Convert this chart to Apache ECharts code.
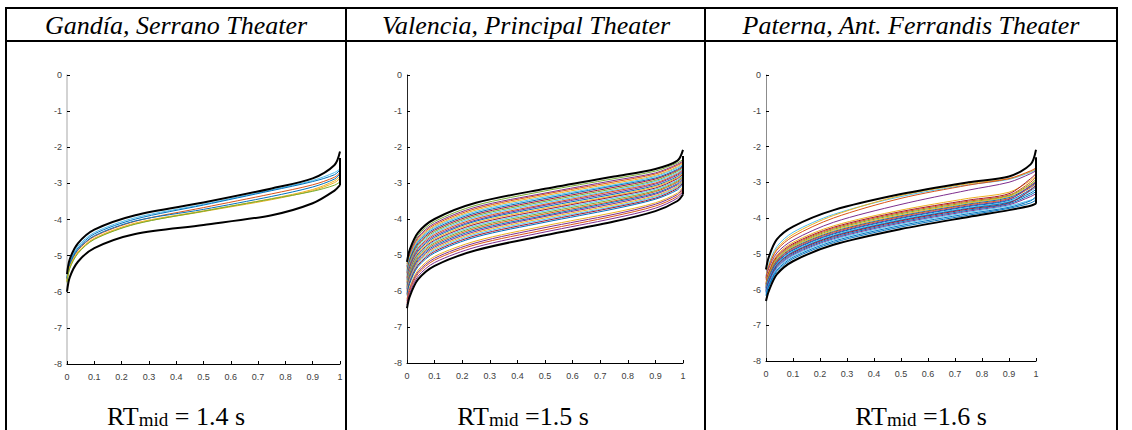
<!DOCTYPE html>
<html>
<head>
<meta charset="utf-8">
<script src="https://cdn.jsdelivr.net/npm/echarts@6/dist/echarts.min.js"></script>
<style>
html,body{margin:0;padding:0;background:#fff;}
#c{width:1132px;height:430px;}
</style>
</head>
<body>
<div id="c"></div>
<script>
// ---------- data ----------
const titles = ['Gandía, Serrano Theater', 'Valencia, Principal Theater', 'Paterna, Ant. Ferrandis Theater'];
const captions = [' = 1.4 s', ' =1.5 s', ' =1.6 s'];
const xTickLabels = ['0','0.1','0.2','0.3','0.4','0.5','0.6','0.7','0.8','0.9','1'];
const yTickLabels = ['-8','-7','-6','-5','-4','-3','-2','-1','0'];
// common x positions of the sampled points
const xs = [0, 0.01, 0.04, 0.1, 0.25, 0.5, 0.75, 0.9, 0.98, 1];

// Gandía
const gandiaUpper = [-5.51,-5.10,-4.66,-4.28,-3.88,-3.53,-3.14,-2.86,-2.49,-2.12];
const gandiaLower = [-6.00,-5.60,-5.17,-4.79,-4.40,-4.15,-3.88,-3.55,-3.20,-3.05];
const gandiaEdge = [-3.05,-2.30];
const gandiaLines = [
  [-5.60,-5.18,-4.74,-4.36,-3.95,-3.58,-3.18,-2.92,-2.70,-2.60],
  [-5.62,-5.22,-4.79,-4.40,-3.99,-3.60,-3.20,-2.95,-2.76,-2.63],
  [-5.66,-5.27,-4.85,-4.47,-4.05,-3.67,-3.29,-3.04,-2.83,-2.70],
  [-5.64,-5.25,-4.83,-4.45,-4.04,-3.72,-3.36,-3.10,-2.88,-2.74],
  [-5.70,-5.32,-4.90,-4.52,-4.10,-3.76,-3.42,-3.17,-2.93,-2.80],
  [-5.72,-5.34,-4.92,-4.54,-4.12,-3.78,-3.45,-3.20,-2.98,-2.86],
  [-5.74,-5.36,-4.94,-4.55,-4.13,-3.77,-3.43,-3.22,-3.05,-2.96]
];
const gandiaColors = ['#4DBEEE','#0072BD','#D95319','#0072BD','#EDB120','#EDB120','#77AC30'];

// Valencia
const valenciaUpper = [-5.19,-4.85,-4.38,-4.00,-3.55,-3.16,-2.82,-2.61,-2.38,-2.08];
const valenciaLower = [-6.48,-6.15,-5.68,-5.30,-4.87,-4.45,-4.07,-3.78,-3.50,-3.32];
const valenciaEdge = [-3.32,-2.25];
const valenciaLines = [
  [-5.25,-4.92,-4.45,-4.07,-3.62,-3.22,-2.88,-2.67,-2.44,-2.35],
  [-5.31,-4.97,-4.50,-4.12,-3.67,-3.28,-2.93,-2.72,-2.48,-2.39],
  [-5.34,-5.01,-4.54,-4.16,-3.71,-3.31,-2.97,-2.75,-2.51,-2.42],
  [-5.38,-5.05,-4.58,-4.20,-3.75,-3.35,-3.01,-2.79,-2.55,-2.45],
  [-5.42,-5.08,-4.61,-4.23,-3.79,-3.39,-3.05,-2.82,-2.58,-2.48],
  [-5.46,-5.12,-4.65,-4.27,-3.83,-3.43,-3.08,-2.86,-2.62,-2.51],
  [-5.50,-5.16,-4.69,-4.31,-3.87,-3.47,-3.12,-2.89,-2.65,-2.54],
  [-5.54,-5.20,-4.73,-4.35,-3.91,-3.51,-3.16,-2.93,-2.68,-2.57],
  [-5.58,-5.24,-4.77,-4.39,-3.95,-3.55,-3.20,-2.96,-2.72,-2.60],
  [-5.62,-5.28,-4.81,-4.43,-3.99,-3.59,-3.23,-3.00,-2.75,-2.63],
  [-5.65,-5.32,-4.85,-4.47,-4.03,-3.62,-3.27,-3.03,-2.78,-2.66],
  [-5.69,-5.36,-4.89,-4.51,-4.06,-3.66,-3.31,-3.07,-2.82,-2.69],
  [-5.73,-5.40,-4.93,-4.55,-4.10,-3.70,-3.35,-3.10,-2.85,-2.72],
  [-5.77,-5.44,-4.97,-4.59,-4.14,-3.74,-3.38,-3.14,-2.88,-2.75],
  [-5.81,-5.47,-5.00,-4.62,-4.18,-3.78,-3.42,-3.17,-2.92,-2.78],
  [-5.85,-5.51,-5.04,-4.66,-4.22,-3.82,-3.46,-3.21,-2.95,-2.81],
  [-5.89,-5.55,-5.08,-4.70,-4.26,-3.86,-3.50,-3.24,-2.98,-2.84],
  [-5.93,-5.59,-5.12,-4.74,-4.30,-3.90,-3.53,-3.28,-3.02,-2.87],
  [-5.96,-5.63,-5.16,-4.78,-4.34,-3.93,-3.57,-3.31,-3.05,-2.90],
  [-6.00,-5.67,-5.20,-4.82,-4.38,-3.97,-3.61,-3.35,-3.09,-2.93],
  [-6.04,-5.71,-5.24,-4.86,-4.42,-4.01,-3.65,-3.38,-3.12,-2.96],
  [-6.08,-5.75,-5.28,-4.90,-4.46,-4.05,-3.68,-3.42,-3.15,-2.99],
  [-6.12,-5.79,-5.32,-4.94,-4.50,-4.09,-3.72,-3.45,-3.19,-3.02],
  [-6.22,-5.89,-5.42,-5.04,-4.61,-4.19,-3.82,-3.55,-3.28,-3.10],
  [-6.27,-5.94,-5.47,-5.09,-4.66,-4.24,-3.87,-3.59,-3.32,-3.14],
  [-6.33,-5.99,-5.52,-5.14,-4.71,-4.30,-3.92,-3.64,-3.37,-3.18],
  [-6.39,-6.06,-5.59,-5.21,-4.78,-4.36,-3.98,-3.70,-3.42,-3.23]
];
const valenciaColors = ['#77AC30','#7E2F8E','#D95319','#EDB120','#4DBEEE','#0072BD','#A2142F',
  '#77AC30','#4DBEEE','#D95319','#7E2F8E','#0072BD','#EDB120','#A2142F','#4DBEEE','#77AC30',
  '#D95319','#0072BD','#7E2F8E','#EDB120','#4DBEEE','#A2142F','#0072BD','#EDB120','#7E2F8E',
  '#D95319','#7E2F8E'];

// Paterna
const paternaUpper = [-5.44,-5.10,-4.60,-4.24,-3.78,-3.33,-3.00,-2.84,-2.50,-2.09];
const paternaLower = [-6.32,-6.05,-5.58,-5.21,-4.75,-4.31,-3.97,-3.78,-3.66,-3.60];
const paternaEdge = [-3.60,-2.30];
const paternaLines = [
  [-5.62,-5.30,-4.80,-4.40,-3.90,-3.40,-3.07,-2.92,-2.72,-2.65],
  [-5.66,-5.34,-4.86,-4.46,-3.93,-3.37,-3.04,-2.90,-2.70,-2.63],
  [-5.68,-5.36,-4.90,-4.52,-4.00,-3.45,-3.08,-2.90,-2.68,-2.60],
  [-5.72,-5.42,-4.98,-4.62,-4.12,-3.62,-3.22,-3.00,-2.76,-2.68],
  [-5.80,-5.50,-5.04,-4.68,-4.22,-3.78,-3.45,-3.28,-2.95,-2.82],
  [-5.84,-5.54,-5.08,-4.72,-4.26,-3.82,-3.50,-3.32,-2.90,-2.76],
  [-5.86,-5.57,-5.11,-4.75,-4.29,-3.85,-3.53,-3.36,-3.00,-2.86],
  [-5.88,-5.60,-5.14,-4.78,-4.32,-3.88,-3.56,-3.38,-3.05,-2.92],
  [-5.90,-5.62,-5.16,-4.80,-4.35,-3.91,-3.58,-3.40,-3.08,-2.96],
  [-5.92,-5.65,-5.19,-4.83,-4.38,-3.94,-3.61,-3.43,-3.12,-3.00],
  [-5.94,-5.67,-5.21,-4.85,-4.40,-3.96,-3.63,-3.46,-3.15,-3.04],
  [-5.96,-5.70,-5.24,-4.88,-4.43,-3.99,-3.66,-3.48,-3.10,-2.98],
  [-5.98,-5.72,-5.26,-4.90,-4.45,-4.01,-3.68,-3.51,-3.20,-3.08],
  [-6.00,-5.74,-5.29,-4.93,-4.48,-4.04,-3.71,-3.54,-3.25,-3.14],
  [-6.02,-5.77,-5.31,-4.95,-4.50,-4.06,-3.73,-3.56,-3.30,-3.20],
  [-6.04,-5.79,-5.33,-4.97,-4.52,-4.08,-3.75,-3.58,-3.22,-3.10],
  [-6.06,-5.81,-5.36,-5.00,-4.55,-4.11,-3.78,-3.60,-3.35,-3.26],
  [-6.08,-5.84,-5.39,-5.03,-4.58,-4.14,-3.81,-3.63,-3.40,-3.32],
  [-6.10,-5.87,-5.42,-5.06,-4.61,-4.17,-3.84,-3.66,-3.50,-3.45],
  [-6.14,-5.90,-5.46,-5.10,-4.65,-4.21,-3.88,-3.70,-3.52,-3.40],
  [-6.18,-5.94,-5.50,-5.14,-4.69,-4.25,-3.92,-3.73,-3.58,-3.50]
];
const paternaColors = ['#4DBEEE','#EDB120','#D95319','#7E2F8E','#EDB120','#A2142F','#D95319',
  '#77AC30','#EDB120','#0072BD','#D95319','#7E2F8E','#0072BD','#4DBEEE','#0072BD','#A2142F',
  '#0072BD','#7E2F8E','#4DBEEE','#0072BD','#0072BD'];

// ---------- layout ----------
const panels = [
  {upper: gandiaUpper, lower: gandiaLower, edge: gandiaEdge, lines: gandiaLines, colors: gandiaColors,
   grid: {left: 67, top: 75, width: 273, height: 289}, yAxisColor: '#c4c4c4', colCenter: 176, capCenter: 176},
  {upper: valenciaUpper, lower: valenciaLower, edge: valenciaEdge, lines: valenciaLines, colors: valenciaColors,
   grid: {left: 407, top: 75, width: 276, height: 288}, yAxisColor: '#262626', colCenter: 526, capCenter: 523},
  {upper: paternaUpper, lower: paternaLower, edge: paternaEdge, lines: paternaLines, colors: paternaColors,
   grid: {left: 766, top: 75, width: 270, height: 286}, yAxisColor: '#8c8c8c', colCenter: 911, capCenter: 921}
];

const SMOOTH = 0.3;
const grids = [], xAxes = [], yAxes = [], series = [];
const toPts = vals => xs.map((x, i) => [x, vals[i]]);
panels.forEach((p, k) => {
  grids.push(Object.assign({containLabel: false}, p.grid));
  xAxes.push({
    type: 'value', gridIndex: k, min: 0, max: 1, interval: 0.1,
    axisLine: {show: true, onZero: false, lineStyle: {color: '#000', width: 1}},
    axisTick: {show: true, inside: true, length: 3, lineStyle: {color: '#000'}},
    axisLabel: {fontSize: 9, color: '#404040', margin: 8, fontFamily: 'Liberation Sans',
      showMinLabel: true, showMaxLabel: true,
      formatter: v => xTickLabels[Math.round(v * 10)]},
    splitLine: {show: false}
  });
  yAxes.push({
    type: 'value', gridIndex: k, min: -8, max: 0, interval: 1,
    axisLine: {show: true, onZero: false, lineStyle: {color: p.yAxisColor, width: k === 0 ? 1.5 : 1}},
    axisTick: {show: true, inside: true, length: 3, lineStyle: {color: '#000'}},
    axisLabel: {fontSize: 9, color: '#404040', margin: 5, fontFamily: 'Liberation Sans',
      formatter: v => yTickLabels[Math.round(v) + 8]},
    splitLine: {show: false}
  });
  p.lines.forEach((vals, j) => {
    series.push({
      type: 'line', xAxisIndex: k, yAxisIndex: k, data: toPts(vals), showSymbol: false,
      smooth: SMOOTH, silent: true,
      lineStyle: {color: p.colors[j], width: 1}
    });
  });
  [p.upper, p.lower].forEach(vals => {
    series.push({
      type: 'line', xAxisIndex: k, yAxisIndex: k, data: toPts(vals), showSymbol: false,
      smooth: SMOOTH, silent: true, z: 5,
      lineStyle: {color: '#000', width: 2}
    });
  });
  series.push({
    type: 'line', xAxisIndex: k, yAxisIndex: k, data: p.edge.map(v => [1, v]), showSymbol: false,
    silent: true, z: 5, lineStyle: {color: '#000', width: 2}
  });
});

// table borders + header and caption texts
const graphics = [];
const hline = (y, x1, x2, w) => graphics.push({type: 'line', shape: {x1, y1: y, x2, y2: y}, style: {stroke: '#000', lineWidth: w}, silent: true});
const vline = (x, y1, y2, w) => graphics.push({type: 'line', shape: {x1: x, y1, x2: x, y2}, style: {stroke: '#000', lineWidth: w}, silent: true});
hline(8, 5, 1118, 2);
hline(41, 5, 1118, 2);
vline(6, 7, 430, 2);
vline(346, 7, 430, 2);
vline(705, 7, 430, 2);
vline(1117, 7, 430, 2);
panels.forEach((p, k) => {
  graphics.push({
    type: 'text', x: p.colCenter, y: 25, silent: true,
    style: {text: titles[k], fill: '#000', font: 'italic 26px "Liberation Serif"', align: 'center', verticalAlign: 'middle'}
  });
  graphics.push({
    type: 'text', x: p.capCenter, y: 429, silent: true,
    style: {
      text: '{a|RT}{b|mid}{a|' + captions[k] + '}',
      align: 'center', verticalAlign: 'bottom',
      rich: {
        a: {fontFamily: 'Liberation Serif', fontSize: 26, fill: '#000', lineHeight: 26, verticalAlign: 'bottom'},
        b: {fontFamily: 'Liberation Serif', fontSize: 19, fill: '#000', lineHeight: 16, verticalAlign: 'bottom'}
      }
    }
  });
});

const chart = echarts.init(document.getElementById('c'), null, {renderer: 'svg'});
chart.setOption({
  animation: false,
  backgroundColor: '#fff',
  grid: grids, xAxis: xAxes, yAxis: yAxes, series: series,
  graphic: graphics
});
</script>
</body>
</html>
